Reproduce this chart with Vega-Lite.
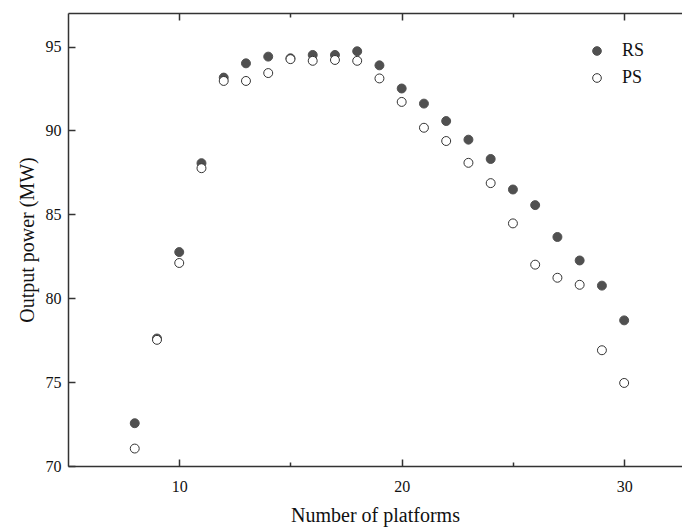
{
  "$schema": "https://vega.github.io/schema/vega-lite/v6.json",
  "width": 614,
  "height": 453,
  "autosize": {"type": "none"},
  "padding": {"left": 68, "top": 13, "right": 0, "bottom": 61},
  "background": "white",
  "config": {
    "view": {"stroke": null},
    "font": "Liberation Serif",
    "axis": {
      "grid": false,
      "domainColor": "#333333",
      "domainWidth": 1.5,
      "tickColor": "#333333",
      "tickWidth": 1.5,
      "labelFont": "Liberation Serif",
      "labelFontSize": 16,
      "labelColor": "#111111",
      "titleFont": "Liberation Serif",
      "titleFontSize": 20,
      "titleFontWeight": "normal",
      "titleColor": "#111111"
    },
    "legend": {
      "orient": "none",
      "legendX": 520,
      "legendY": 29,
      "padding": 0,
      "title": null,
      "labelFont": "Liberation Serif",
      "labelFontSize": 18,
      "labelColor": "#111111",
      "symbolSize": 75,
      "symbolType": "circle",
      "symbolStrokeWidth": 1,
      "labelOffset": 16,
      "rowPadding": 9
    }
  },
  "data": {
    "values": [
      {"n": 8, "series": "RS", "power": 72.55},
      {"n": 9, "series": "RS", "power": 77.6},
      {"n": 10, "series": "RS", "power": 82.75},
      {"n": 11, "series": "RS", "power": 88.05},
      {"n": 12, "series": "RS", "power": 93.15},
      {"n": 13, "series": "RS", "power": 94.0},
      {"n": 14, "series": "RS", "power": 94.4},
      {"n": 15, "series": "RS", "power": 94.3},
      {"n": 16, "series": "RS", "power": 94.5},
      {"n": 17, "series": "RS", "power": 94.5},
      {"n": 18, "series": "RS", "power": 94.72},
      {"n": 19, "series": "RS", "power": 93.88},
      {"n": 20, "series": "RS", "power": 92.5},
      {"n": 21, "series": "RS", "power": 91.6},
      {"n": 22, "series": "RS", "power": 90.56},
      {"n": 23, "series": "RS", "power": 89.45},
      {"n": 24, "series": "RS", "power": 88.3},
      {"n": 25, "series": "RS", "power": 86.48},
      {"n": 26, "series": "RS", "power": 85.55},
      {"n": 27, "series": "RS", "power": 83.65},
      {"n": 28, "series": "RS", "power": 82.25},
      {"n": 29, "series": "RS", "power": 80.75},
      {"n": 30, "series": "RS", "power": 78.68},
      {"n": 8, "series": "PS", "power": 71.04},
      {"n": 9, "series": "PS", "power": 77.52},
      {"n": 10, "series": "PS", "power": 82.1},
      {"n": 11, "series": "PS", "power": 87.75},
      {"n": 12, "series": "PS", "power": 92.95},
      {"n": 13, "series": "PS", "power": 92.95},
      {"n": 14, "series": "PS", "power": 93.42},
      {"n": 15, "series": "PS", "power": 94.25},
      {"n": 16, "series": "PS", "power": 94.15},
      {"n": 17, "series": "PS", "power": 94.2},
      {"n": 18, "series": "PS", "power": 94.15},
      {"n": 19, "series": "PS", "power": 93.1},
      {"n": 20, "series": "PS", "power": 91.7},
      {"n": 21, "series": "PS", "power": 90.16},
      {"n": 22, "series": "PS", "power": 89.37},
      {"n": 23, "series": "PS", "power": 88.07},
      {"n": 24, "series": "PS", "power": 86.86},
      {"n": 25, "series": "PS", "power": 84.46},
      {"n": 26, "series": "PS", "power": 82.0},
      {"n": 27, "series": "PS", "power": 81.22},
      {"n": 28, "series": "PS", "power": 80.8},
      {"n": 29, "series": "PS", "power": 76.9},
      {"n": 30, "series": "PS", "power": 74.95}
    ]
  },
  "encoding": {
    "y": {
      "field": "power",
      "type": "quantitative",
      "scale": {"domain": [70, 97], "nice": false, "zero": false},
      "axis": {
        "values": [70, 75, 80, 85, 90, 95],
        "tickSize": -7,
        "labelPadding": 14,
        "title": "Output power (MW)",
        "titlePadding": 8
      }
    },
    "fill": {
      "field": "series",
      "type": "nominal",
      "scale": {"domain": ["RS", "PS"], "range": ["#505050", "#ffffff"]}
    },
    "stroke": {
      "field": "series",
      "type": "nominal",
      "scale": {"domain": ["RS", "PS"], "range": ["#505050", "#333333"]}
    }
  },
  "layer": [
    {
      "transform": [{"filter": "datum.series === 'RS'"}],
      "mark": {"type": "circle", "size": 80, "opacity": 1, "strokeWidth": 1},
      "encoding": {
        "x": {
          "field": "n",
          "type": "quantitative",
          "scale": {"domain": [5, 32.6], "nice": false, "zero": false},
          "axis": {
            "orient": "bottom",
            "values": [10, 15, 20, 25, 30],
            "labelExpr": "datum.value % 10 === 0 ? datum.label : ''",
            "tickSize": {"condition": {"test": "datum.value % 10 === 0", "value": -7}, "value": -4},
            "labelPadding": 19,
            "title": "Number of platforms",
            "titlePadding": 11
          }
        }
      }
    },
    {
      "transform": [{"filter": "datum.series === 'PS'"}],
      "mark": {"type": "circle", "size": 80, "opacity": 1, "strokeWidth": 1},
      "encoding": {
        "x": {
          "field": "n",
          "type": "quantitative",
          "scale": {"domain": [5, 32.6], "nice": false, "zero": false},
          "axis": {
            "orient": "top",
            "values": [10, 15, 20, 25, 30],
            "labels": false,
            "tickSize": {"condition": {"test": "datum.value % 10 === 0", "value": -7}, "value": -4},
            "title": null
          }
        }
      }
    }
  ],
  "resolve": {"axis": {"x": "independent"}}
}
